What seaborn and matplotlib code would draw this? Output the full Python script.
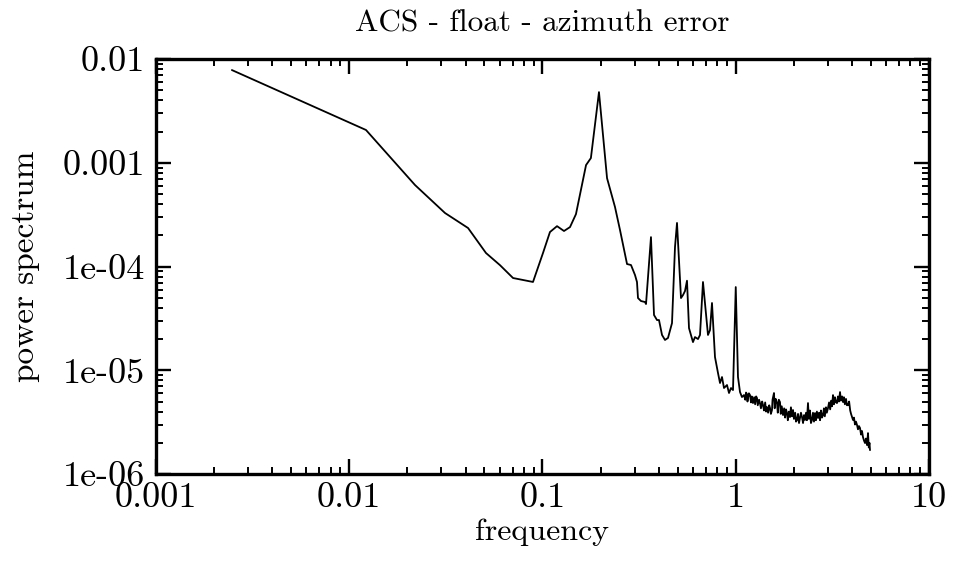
import numpy as np
import pandas as pd
import matplotlib
matplotlib.use('Agg')
import matplotlib.pyplot as plt
import matplotlib.ticker as mticker
import seaborn as sns

# power spectrum of the azimuth error
frequency = [
    0.00247, 0.01221, 0.0219, 0.0313, 0.0412, 0.0510, 0.0603, 0.0704, 0.0893,
    0.1006, 0.1093, 0.1189, 0.1292, 0.1388, 0.149, 0.168, 0.178, 0.196,
    0.2158, 0.2372, 0.2518, 0.2738, 0.2871, 0.3011, 0.3083, 0.3120, 0.3234,
    0.3392, 0.3433, 0.3642, 0.3776, 0.3913, 0.4007, 0.4154, 0.4305, 0.4461,
    0.4679, 0.4849, 0.4966, 0.5208, 0.5334, 0.5462, 0.5594, 0.5729, 0.6008,
    0.6152, 0.6377, 0.6531, 0.6768, 0.7184, 0.7357, 0.7535, 0.7809, 0.8094,
    0.8290, 0.8489, 0.8694, 0.9010, 0.9228, 0.9450, 0.9678, 1.0, 1.027,
    1.052, 1.077, 1.103, 1.12, 1.13, 1.143, 1.15, 1.157, 1.17, 1.185, 1.20,
    1.21, 1.228, 1.245, 1.26, 1.275, 1.288, 1.30, 1.32, 1.335, 1.35, 1.37,
    1.384, 1.40, 1.42, 1.435, 1.451, 1.47, 1.49, 1.504, 1.52, 1.540, 1.55,
    1.577, 1.59, 1.61, 1.635, 1.65, 1.67, 1.694, 1.71, 1.73, 1.756, 1.78,
    1.80, 1.82, 1.842, 1.86, 1.885, 1.909, 1.93, 1.955, 1.979, 2.00, 2.03,
    2.05, 2.075, 2.10, 2.125, 2.150, 2.175, 2.202, 2.23, 2.255, 2.282, 2.31,
    2.335, 2.365, 2.39, 2.42, 2.45, 2.480, 2.51, 2.54, 2.571, 2.60, 2.63,
    2.665, 2.70, 2.73, 2.76, 2.795, 2.828, 2.86, 2.89, 2.93, 2.96, 3.002,
    3.04, 3.08, 3.12, 3.15, 3.186, 3.22, 3.26, 3.30, 3.342, 3.38, 3.42,
    3.464, 3.50, 3.55, 3.589, 3.63, 3.67, 3.72, 3.76, 3.810, 3.86, 3.91,
    3.95, 3.996, 4.043, 4.09, 4.14, 4.19, 4.241, 4.29, 4.34, 4.395, 4.45,
    4.50, 4.554, 4.61, 4.665, 4.72, 4.78, 4.834, 4.88, 4.92, 4.951,
]
power = [
    7.83e-3, 2.07e-3, 6.1e-4, 3.28e-4, 2.35e-4, 1.35e-4, 1.03e-4, 7.75e-5, 7.1e-5,
    1.35e-4, 2.15e-4, 2.45e-4, 2.2e-4, 2.4e-4, 3.2e-4, 9.5e-4, 1.11e-3, 4.8e-3,
    7.1e-4, 3.75e-4, 2.25e-4, 1.057e-4, 1.034e-4, 8.28e-5, 7.09e-5, 4.97e-5, 4.65e-5,
    4.55e-5, 4.35e-5, 1.92e-4, 3.41e-5, 3.05e-5, 3.05e-5, 2.19e-5, 1.96e-5, 2.05e-5,
    2.85e-5, 1.54e-4, 2.63e-4, 4.97e-5, 5.31e-5, 5.8e-5, 7.3e-5, 2.55e-5, 1.87e-5,
    2.09e-5, 2.0e-5, 2.19e-5, 7.09e-5, 2.19e-5, 2.44e-5, 4.45e-5, 1.34e-5, 9.41e-6,
    7.54e-6, 8.61e-6, 6.75e-6, 7.21e-6, 6.04e-6, 6.75e-6, 6.45e-6, 6.34e-5, 8.61e-6,
    6.17e-6, 5.52e-6, 5.77e-6, 5.2e-6, 6.1e-6, 5.9e-6, 5.0e-6, 5.4e-6, 6.0e-6, 5.77e-6, 4.9e-6,
    5.6e-6, 4.83e-6, 5.5e-6, 4.7e-6, 5.6e-6, 5.4e-6, 4.6e-6, 5.2e-6, 4.83e-6, 4.3e-6, 5.0e-6,
    4.62e-6, 4.1e-6, 4.9e-6, 4.0e-6, 4.42e-6, 3.9e-6, 4.6e-6, 4.33e-6, 3.8e-6, 4.14e-6, 5.2e-6,
    6.04e-6, 4.3e-6, 5.3e-6, 4.83e-6, 3.9e-6, 5.2e-6, 4.94e-6, 3.8e-6, 4.5e-6, 3.7e-6, 4.3e-6,
    3.5e-6, 4.2e-6, 3.87e-6, 3.3e-6, 4.0e-6, 3.54e-6, 4.4e-6, 3.6e-6, 4.14e-6, 3.4e-6, 3.9e-6,
    3.2e-6, 3.32e-6, 3.8e-6, 3.1e-6, 3.47e-6, 3.9e-6, 3.54e-6, 3.1e-6, 3.7e-6, 3.32e-6, 3.9e-6,
    3.3e-6, 4.83e-6, 3.4e-6, 4.1e-6, 3.1e-6, 3.32e-6, 3.9e-6, 3.2e-6, 3.87e-6, 3.3e-6, 4.0e-6,
    3.47e-6, 3.9e-6, 3.3e-6, 4.1e-6, 3.5e-6, 3.7e-6, 4.3e-6, 3.6e-6, 4.4e-6, 3.9e-6, 4.33e-6,
    4.9e-6, 4.2e-6, 5.1e-6, 4.5e-6, 5.77e-6, 4.7e-6, 5.5e-6, 4.9e-6, 4.83e-6, 5.6e-6, 5.0e-6,
    6.17e-6, 5.1e-6, 5.6e-6, 4.94e-6, 5.5e-6, 4.7e-6, 5.3e-6, 4.6e-6, 4.62e-6, 5.0e-6, 4.1e-6,
    3.8e-6, 3.54e-6, 3.32e-6, 3.5e-6, 3.0e-6, 3.2e-6, 2.97e-6, 2.7e-6, 2.9e-6, 2.78e-6, 2.4e-6,
    2.6e-6, 2.27e-6, 2.1e-6, 1.99e-6, 2.2e-6, 1.9e-6, 2.48e-6, 1.8e-6, 2.0e-6, 1.70e-6,
]

x_ticks = [0.001, 0.01, 0.1, 1, 10]
x_labels = ['0.001', '0.01', '0.1', '1', '10']
y_ticks = [1e-6, 1e-5, 1e-4, 1e-3, 1e-2]
y_labels = ['1e-06', '1e-05', '1e-04', '0.001', '0.01']

spec = pd.DataFrame({'frequency': frequency, 'power': power})

sns.set_style('ticks')
plt.rcParams['font.family'] = ['cmr10', 'DejaVu Serif']
plt.rcParams['axes.formatter.use_mathtext'] = True
plt.rcParams['text.color'] = 'black'
plt.rcParams['axes.labelcolor'] = 'black'

fig = plt.figure(figsize=(9.54, 5.61), dpi=100)
ax = fig.add_axes([0.1635, 0.155, 0.8103, 0.7398])

sns.lineplot(data=spec, x='frequency', y='power', ax=ax, color='black',
             linewidth=1.3, estimator=None, sort=False)

ax.set_xscale('log')
ax.set_yscale('log')
ax.set_xlim(0.001, 10)
ax.set_ylim(1e-6, 1e-2)

ax.xaxis.set_major_locator(mticker.FixedLocator(x_ticks))
ax.xaxis.set_major_formatter(mticker.FixedFormatter(x_labels))
ax.yaxis.set_major_locator(mticker.FixedLocator(y_ticks))
ax.yaxis.set_major_formatter(mticker.FixedFormatter(y_labels))
ax.xaxis.set_minor_locator(mticker.LogLocator(base=10, subs=np.arange(2, 10), numticks=20))
ax.yaxis.set_minor_locator(mticker.LogLocator(base=10, subs=np.arange(2, 10), numticks=20))
ax.xaxis.set_minor_formatter(mticker.NullFormatter())
ax.yaxis.set_minor_formatter(mticker.NullFormatter())

ax.tick_params(which='both', direction='in', top=True, right=True, labelsize=26,
               colors='black', labelcolor='black')
ax.tick_params(which='major', length=11, width=1.7)
ax.tick_params(axis='x', which='major', pad=6)
ax.tick_params(axis='y', which='major', pad=8)
ax.tick_params(which='minor', length=5, width=1.4)
for s in ax.spines.values():
    s.set_linewidth(2.4)
    s.set_color('black')

ax.set_xlabel('frequency', fontsize=23, labelpad=3, color='black')
ax.set_ylabel('power spectrum', fontsize=24, labelpad=16, color='black')
ax.set_title('ACS - float - azimuth error', fontsize=22.5, pad=20, color='black')

fig.savefig('out.png', dpi=100)
